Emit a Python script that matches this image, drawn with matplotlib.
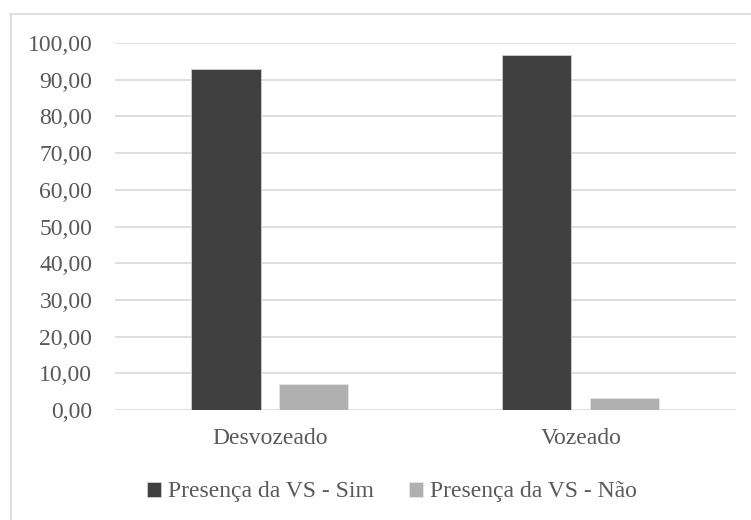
import numpy as np
import matplotlib.pyplot as plt
from matplotlib.lines import Line2D

categorias = ['Desvozeado', 'Vozeado']
sim = [92.86, 96.77]
nao = [7.14, 3.23]
series = ['Presença da VS - Sim', 'Presença da VS - Não']

plt.rcParams['font.family'] = ['Liberation Serif', 'DejaVu Serif']
texto = '#595959'

fig = plt.figure(figsize=(7.51, 5.2), dpi=100)
ax = fig.add_axes([0.1525, 0.2115, 0.828, 0.7058])

x = np.arange(len(categorias))
w = 0.222
off = 0.1415
ax.bar(x - off, sim, w, color='#404040', edgecolor='#d0d0d0', linewidth=0.6,
       label=series[0], zorder=3)
ax.bar(x + off, nao, w, color='#b0b0b0', edgecolor='#e6e6e6', linewidth=0.6,
       label=series[1], zorder=3)

ax.set_xlim(-0.5, 1.5)
ax.set_ylim(0, 100)
ax.set_yticks(np.arange(0, 101, 10))
ax.set_yticklabels(['{:.2f}'.format(v).replace('.', ',') for v in range(0, 101, 10)])
ax.set_xticks(x)
ax.set_xticklabels(categorias)
ax.grid(axis='y', color='#d9d9d9', linewidth=1.2, zorder=0)
for s in ax.spines.values():
    s.set_visible(False)
ax.tick_params(axis='both', length=0, labelsize=17, labelcolor=texto)
ax.tick_params(axis='y', pad=16)
ax.tick_params(axis='x', pad=13)

fig.legend(loc='center', bbox_to_anchor=(0.522, 0.054), ncol=2, frameon=False,
           fontsize=17, labelcolor=texto, handlelength=0.6, handleheight=0.6,
           handletextpad=0.3, columnspacing=1.5)

# borda do gráfico (superior e esquerda)
fig.add_artist(Line2D([10 / 751, 1], [1 - 13.5 / 520] * 2, color='#d9d9d9', lw=1.2))
fig.add_artist(Line2D([10.5 / 751] * 2, [0, 1 - 13.5 / 520], color='#d9d9d9', lw=1.2))

fig.savefig('out.png', dpi=100)
